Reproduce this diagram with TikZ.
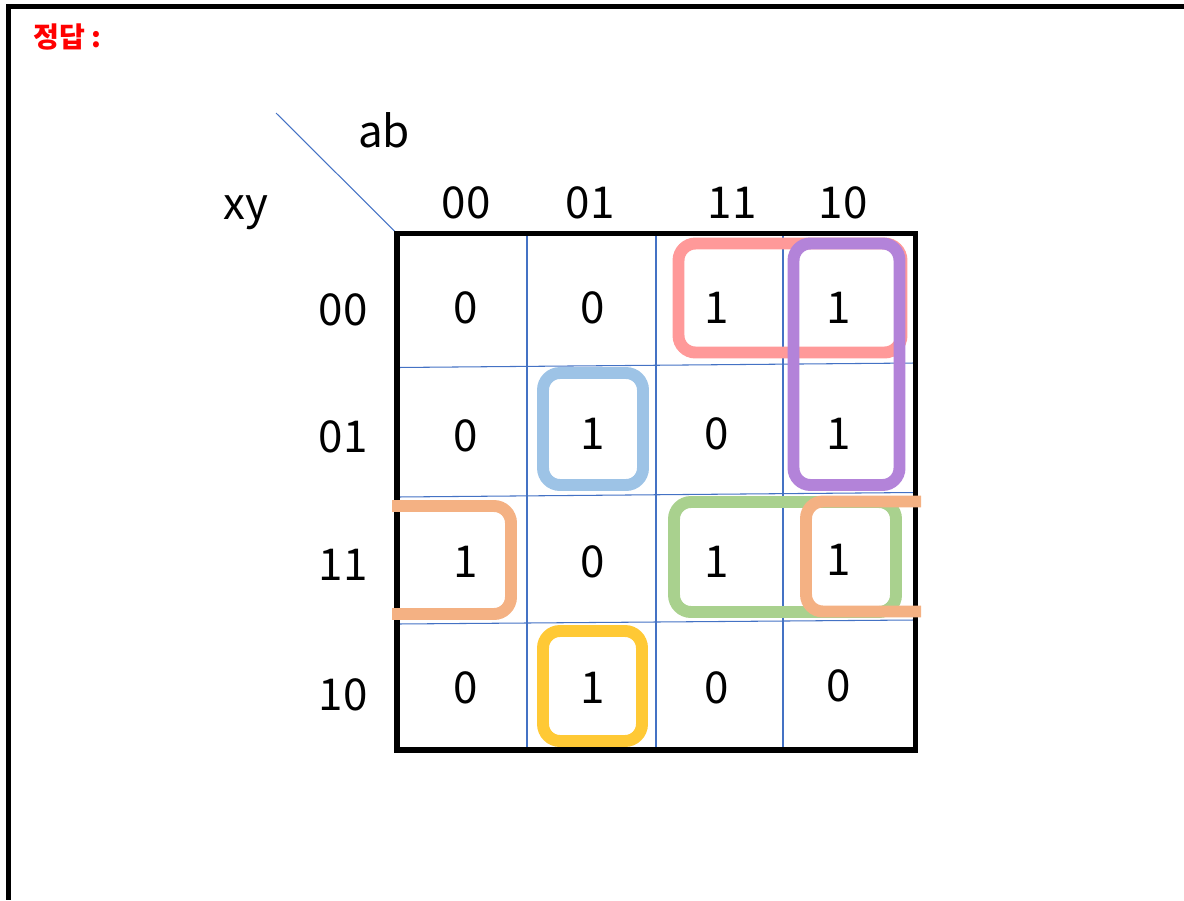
\documentclass[tikz,border=0pt]{standalone}
\usepackage{fontspec}
\setmainfont{Noto Sans CJK KR}
\usepackage{xcolor}
\usetikzlibrary{positioning, calc}
\definecolor{gridblue}{HTML}{4472C4}
\definecolor{loopred}{HTML}{FF9999}
\definecolor{loopviolet}{HTML}{B383D9}
\definecolor{loopblue}{HTML}{9DC3E6}
\definecolor{loopgreen}{HTML}{A9D18E}
\definecolor{looporange}{HTML}{F4B183}
\definecolor{loopyellow}{HTML}{FFC935}
\tikzset{
  cellval/.style={font=\fontsize{25}{30}\selectfont, inner sep=0pt},
  axislabel/.style={font=\fontsize{25}{30}\selectfont, inner sep=0pt},
  gridline/.style={gridblue, line width=0.6pt},
  kloop/.style={line width=6.8pt, rounded corners=0.34cm},
}

\begin{document}
\begin{tikzpicture}[x=0.02cm, y=-0.02cm]
  \useasboundingbox (0,0) rectangle (1184,900);

  % === Sheet frame and title ===
  \draw[line width=2.8pt] (1184,6.7) -- (8.5,6.7) -- (8.5,900);
  \node[text=red, font=\bfseries\fontsize{16}{18}\selectfont, anchor=west] (title) at (27,37) {정답 :};

  % === Header corner ===
  \coordinate (diagtop) at (276,113);
  \coordinate (mapnw) at (397,233.5);
  \draw[gridline] (diagtop) -- (mapnw);
  \node[axislabel] (ab) at (384,130) {ab};
  \node[axislabel] (xy) at (246,213) {xy};

  % === Column and row labels ===
  \node[axislabel] (c00) at (466,203) {00};
  \node[axislabel] (c01) at (590,203) {01};
  \node[axislabel] (c11) at (732,203) {11};
  \node[axislabel] (c10) at (843,203) {10};
  \node[axislabel] (r00) at (343,310) {00};
  \node[axislabel] (r01) at (343,437) {01};
  \node[axislabel] (r11) at (343,565) {11};
  \node[axislabel] (r10) at (343,695) {10};

  % === Grid ===
  \draw[gridline] (527,233.5) -- (527,752);
  \draw[gridline] (656,233.5) -- (656,752);
  \draw[gridline] (783,233.5) -- (783,752);
  \draw[gridline] (397,367.5) -- (915,363);
  \draw[gridline] (397,497) -- (915,492.5);
  \draw[gridline] (397,624) -- (915,620);
  \draw[line width=3.4pt] (mapnw) rectangle (915.5,750);

  % === Cell values ===
  \node[cellval] (m00a) at (466,308) {0};
  \node[cellval] (m00b) at (593,308) {0};
  \node[cellval] (m00c) at (717,308) {1};
  \node[cellval] (m00d) at (839,308) {1};
  \node[cellval] (m01a) at (466,436) {0};
  \node[cellval] (m01b) at (593,434) {1};
  \node[cellval] (m01c) at (717,434) {0};
  \node[cellval] (m01d) at (839,434) {1};
  \node[cellval] (m11a) at (466,562) {1};
  \node[cellval] (m11b) at (593,562) {0};
  \node[cellval] (m11c) at (717,562) {1};
  \node[cellval] (m11d) at (839,560) {1};
  \node[cellval] (m10a) at (466,688) {0};
  \node[cellval] (m10b) at (593,688) {1};
  \node[cellval] (m10c) at (717,688) {0};
  \node[cellval] (m10d) at (839,686) {0};

  % === Groupings ===
  \draw[kloop, loopred] (678.5,243.5) rectangle (901.5,352.5);
  \draw[kloop, loopviolet] (793.5,243.5) rectangle (899.5,485);
  \draw[kloop, loopblue] (543,373) rectangle (643,485);
  \draw[kloop, loopyellow] (543,631) rectangle (642,741);
  \draw[kloop, loopgreen] (674,502) rectangle (896,612);
  \draw[kloop, looporange] (392,506) -- (511,506) -- (511,614) -- (392,614);
  \draw[kloop, looporange] (921,501.5) -- (806,501.5) -- (806,611.5) -- (921,611.5);
\end{tikzpicture}
\end{document}
